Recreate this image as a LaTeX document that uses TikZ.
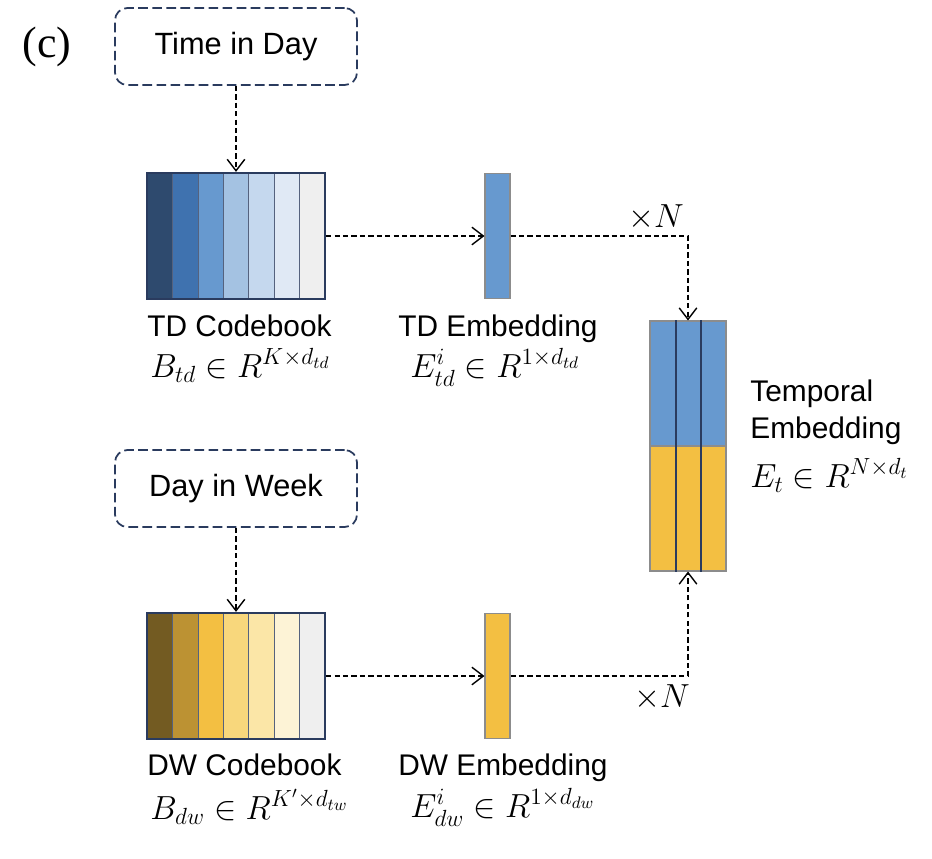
\documentclass[tikz,border=0pt]{standalone}
\usepackage{fix-cm}
\usepackage{amsmath,amssymb}
\usepackage{fontspec}
\setmainfont{Liberation Sans}
\newfontfamily\panelfont{Liberation Serif}
\usetikzlibrary{arrows.meta,positioning}
\definecolor{navyline}{RGB}{42,59,94}
\definecolor{tdA}{HTML}{2E4A6E}
\definecolor{tdB}{HTML}{3F72AF}
\definecolor{tdC}{HTML}{6799CF}
\definecolor{tdD}{HTML}{A4C2E2}
\definecolor{tdE}{HTML}{C5D8EE}
\definecolor{tdF}{HTML}{E0E9F5}
\definecolor{dwA}{HTML}{735B22}
\definecolor{dwB}{HTML}{BC9233}
\definecolor{dwC}{HTML}{F3BF42}
\definecolor{dwD}{HTML}{F8D77C}
\definecolor{dwE}{HTML}{FBE6A7}
\definecolor{dwF}{HTML}{FDF3D6}
\definecolor{blank}{HTML}{EFEFEF}
\tikzset{
  inputbox/.style={draw=navyline, dash pattern=on 5.5pt off 2.5pt, line width=1pt, rounded corners=7pt,
    minimum width=4.84cm, minimum height=1.54cm, font=\fontsize{17.5}{21}\selectfont},
  stripe/.style={draw=navyline!80, line width=0.4pt, minimum width=0.5086cm, minimum height=2.52cm, inner sep=0pt},
  codebook/.style={draw=navyline, line width=1.3pt, minimum width=3.56cm, minimum height=2.52cm, inner sep=0pt},
  embvec/.style={draw=gray!90, line width=0.6pt, minimum width=0.5cm, minimum height=2.5cm, inner sep=0pt},
  cell/.style={draw=gray!90, line width=0.6pt, minimum width=0.5067cm, minimum height=2.5cm, inner sep=0pt},
  flow/.style={-{Straight Barb[length=6.5pt,width=10pt]}, dash pattern=on 3pt off 1.8pt, line width=0.8pt},
  lbl/.style={anchor=base west, inner sep=0pt, font=\fontsize{17}{21}\selectfont},
  mathlbl/.style={anchor=base west, inner sep=0pt, font=\fontsize{19}{23}\selectfont},
}
\begin{document}
\begin{tikzpicture}[x=0.02cm, y=-0.02cm]
\useasboundingbox (0,0) rectangle (932,858);

\node[font=\panelfont\fontsize{25}{30}\selectfont] (panel) at (47,47) {(c)};

% time in day branch
\node[inputbox] (tdinput) at (236,46.5) {Time in Day};
\foreach \c [count=\i] in {tdA,tdB,tdC,tdD,tdE,tdF,blank}
  \node[stripe, fill=\c] (tds\i) at ({147+25.43*(\i-0.5)},236) {};
\node[codebook] (tdbook) at (236,236) {};
\node[embvec, fill=tdC] (tdemb) at (497.5,236) {};
\node[lbl] (tdbooklbl) at (147,336) {TD Codebook};
\node[mathlbl] (tdbookeq) at (150,377) {$B_{td} \in R^{K\times d_{td}}$};
\node[lbl] (tdemblbl) at (398,336) {TD Embedding};
\node[mathlbl] (tdembeq) at (410,377) {$E_{td}^{i} \in R^{1\times d_{td}}$};

% day in week branch
\node[inputbox] (dwinput) at (236,488.5) {Day in Week};
\foreach \c [count=\i] in {dwA,dwB,dwC,dwD,dwE,dwF,blank}
  \node[stripe, fill=\c] (dws\i) at ({147+25.43*(\i-0.5)},676) {};
\node[codebook] (dwbook) at (236,676) {};
\node[embvec, fill=dwC] (dwemb) at (497.5,676) {};
\node[lbl] (dwbooklbl) at (147,775) {DW Codebook};
\node[mathlbl] (dwbookeq) at (150,819) {$B_{dw} \in R^{K'\times d_{tw}}$};
\node[lbl] (dwemblbl) at (398,775) {DW Embedding};
\node[mathlbl] (dwembeq) at (410,817) {$E_{dw}^{i} \in R^{1\times d_{dw}}$};

% temporal embedding
\foreach \i in {1,2,3} {
  \node[cell, fill=tdC] (tb\i) at ({650+25.33*(\i-0.5)},383.5) {};
  \node[cell, fill=dwC] (ty\i) at ({650+25.33*(\i-0.5)},508.5) {};
}
\draw[navyline, line width=1.2pt] (tb1.north east) -- (ty1.south east)
  (tb2.north east) -- (ty2.south east);
\node[anchor=west, inner sep=0pt, align=left, font=\fontsize{17}{21.3}\selectfont] (templbl) at (750,412) {Temporal\\Embedding};
\node[mathlbl] (tempeq) at (750,487) {$E_t \in R^{N\times d_t}$};

% connectors
\draw[flow] (tdinput) -- (tdbook);
\draw[flow] (tdbook) -- (tdemb);
\draw[flow] (tdemb.east) -| (tb2.north);
\draw[flow] (dwinput) -- (dwbook);
\draw[flow] (dwbook) -- (dwemb);
\draw[flow] (dwemb.east) -| (ty2.south);
\node[font=\fontsize{19}{22}\selectfont] (tdrep) at (656,217) {$\times N$};
\node[font=\fontsize{19}{22}\selectfont] (dwrep) at (662,697) {$\times N$};
\end{tikzpicture}
\end{document}
